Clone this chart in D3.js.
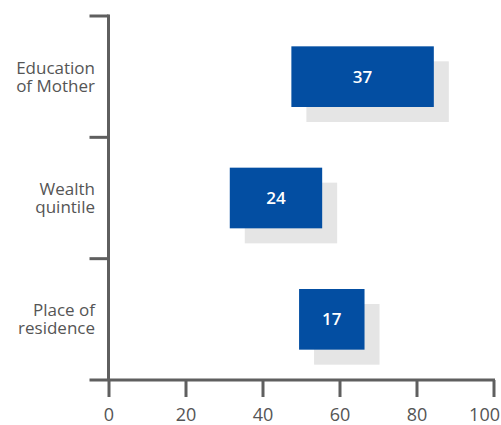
<!DOCTYPE html>
<html>
<head>
<meta charset="utf-8">
<script src="https://d3js.org/d3.v7.min.js"></script>
<style>
  body { margin: 0; background: #fff; }
  text { font-family: "Open Sans", sans-serif; }
</style>
</head>
<body>
<div id="chart"></div>
<script>
  // data
  var categories = [["Education", "of Mother"], ["Wealth", "quintile"], ["Place of", "residence"]];
  var starts = [47.5, 31.5, 49.5];
  var gaps = [37, 24, 17];
  var xTicks = [0, 20, 40, 60, 80, 100];

  var width = 501, height = 425;
  var blue = "#034ea2", shadow = "#e5e5e5", axisCol = "#5f5f5f", textCol = "#555";

  var svg = d3.select("#chart")
              .append("svg")
              .attr("width", width)
              .attr("height", height);

  var x = d3.scaleLinear().domain([0, 100]).range([108.5, 493.5]);
  var y = d3.scaleBand().domain(d3.range(categories.length)).range([16, 380]);
  var bh = y.bandwidth() * 0.5;

  var rows = categories.map(function(c, i){
    return {label: c, start: starts[i], gap: gaps[i], i: i};
  });

  // shadows first, then bars
  svg.selectAll("rect.shadow")
     .data(rows).enter().append("rect")
     .attr("class", "shadow")
     .attr("x", function(d){ return x(d.start) + 15; })
     .attr("y", function(d){ return y(d.i) + y.bandwidth() * 0.25 + 15; })
     .attr("width", function(d){ return x(d.start + d.gap) - x(d.start); })
     .attr("height", bh)
     .attr("fill", shadow);

  svg.selectAll("rect.bar")
     .data(rows).enter().append("rect")
     .attr("class", "bar")
     .attr("x", function(d){ return x(d.start); })
     .attr("y", function(d){ return y(d.i) + y.bandwidth() * 0.25; })
     .attr("width", function(d){ return x(d.start + d.gap) - x(d.start); })
     .attr("height", bh)
     .attr("fill", blue);

  svg.selectAll("text.val")
     .data(rows).enter().append("text")
     .attr("class", "val")
     .attr("x", function(d){ return x(d.start + d.gap / 2); })
     .attr("y", function(d){ return y(d.i) + y.bandwidth() / 2; })
     .attr("dy", "0.35em")
     .attr("text-anchor", "middle")
     .attr("fill", "#fff")
     .style("font-size", "17px")
     .style("font-weight", 600)
     .text(function(d){ return d.gap; });

  // category labels, two lines each
  var lab = svg.selectAll("text.cat")
     .data(rows).enter().append("text")
     .attr("class", "cat")
     .attr("text-anchor", "end")
     .attr("fill", textCol)
     .style("font-size", "17px");
  lab.append("tspan")
     .attr("x", 95)
     .attr("y", function(d){ return y(d.i) + y.bandwidth() / 2 - 3; })
     .text(function(d){ return d.label[0]; });
  lab.append("tspan")
     .attr("x", 95)
     .attr("y", function(d){ return y(d.i) + y.bandwidth() / 2 + 15; })
     .text(function(d){ return d.label[1]; });

  // axes
  var gx = svg.append("g")
              .attr("transform", "translate(0,380)")
              .call(d3.axisBottom(x).tickValues(xTicks).tickSize(17).tickSizeOuter(0).tickPadding(11));
  gx.select(".domain").remove();
  gx.selectAll(".tick line").attr("stroke", axisCol).attr("stroke-width", 3);
  gx.selectAll(".tick text")
    .attr("fill", textCol)
    .style("font-size", "18px")
    .style("font-family", "'Open Sans', sans-serif");
  // last label is pushed left so it stays inside the frame
  gx.selectAll(".tick text")
    .filter(function(d){ return d === 100; })
    .attr("text-anchor", "end")
    .attr("x", 6);

  svg.append("line")
     .attr("x1", x(0) - 19).attr("x2", x(100) + 1.5)
     .attr("y1", 380).attr("y2", 380)
     .attr("stroke", axisCol).attr("stroke-width", 3);

  svg.append("line")
     .attr("x1", x(0)).attr("x2", x(0))
     .attr("y1", y.range()[0] - 1.5).attr("y2", y.range()[1])
     .attr("stroke", axisCol).attr("stroke-width", 3);

  svg.selectAll("line.ytick")
     .data(d3.range(categories.length)).enter().append("line")
     .attr("class", "ytick")
     .attr("x1", x(0) - 19).attr("x2", x(0))
     .attr("y1", function(i){ return y(i); })
     .attr("y2", function(i){ return y(i); })
     .attr("stroke", axisCol).attr("stroke-width", 3);
</script>
</body>
</html>
